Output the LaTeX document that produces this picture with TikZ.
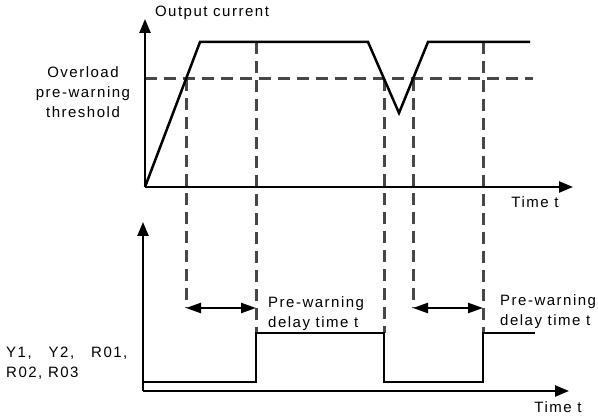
\documentclass[tikz,border=0pt]{standalone}
\usepackage{fontspec}
\setmainfont{Liberation Sans}[LetterSpace=10]
\usetikzlibrary{arrows.meta}
\begin{document}
\begin{tikzpicture}[x=1pt,y=-1pt,
  axis/.style={line width=2.5pt, -{Triangle[length=14pt,width=11pt]}},
  sig/.style={line width=2.5pt, line join=miter},
  guide/.style={line width=3pt, draw=black!72, dash pattern=on 12pt off 7pt},
  span/.style={line width=2.3pt, {Triangle[length=15pt,width=10pt]}-{Triangle[length=15pt,width=10pt]}},
  lbl/.style={font=\fontsize{15}{20}\selectfont, inner sep=0pt}]
\useasboundingbox[fill=white] (0,0) rectangle (598,419);
% coordinates
\coordinate (o1) at (145,187);
\coordinate (y1) at (145,19);
\coordinate (x1) at (573,187);
\coordinate (o2) at (143,391);
\coordinate (y2) at (143,222);
\coordinate (x2) at (569,391);
\coordinate (p1) at (200,42);
\coordinate (p2) at (368,42);
\coordinate (p3) at (399,113);
\coordinate (p4) at (428,42);
\coordinate (p5) at (530,42);
\coordinate (t0) at (145,79);
\coordinate (t1) at (533,79);
\coordinate (a1) at (186,79);
\coordinate (a2) at (186,308);
\coordinate (b1) at (256,42);
\coordinate (b2) at (256,333);
\coordinate (b3) at (256,308);
\coordinate (c1) at (384,79);
\coordinate (c2) at (384,333);
\coordinate (d1) at (413,79);
\coordinate (d2) at (413,308);
\coordinate (e1) at (483,42);
\coordinate (e2) at (483,333);
\coordinate (e3) at (483,308);
\coordinate (s0) at (143,382);
\coordinate (s1) at (256,382);
\coordinate (s2) at (384,382);
\coordinate (s3) at (483,382);
\coordinate (s4) at (535,333);
% dashed guides
\draw[guide] (t0) -- (t1);
\draw[guide] (a1) -- (a2);
\draw[guide] (b1) -- (b2);
\draw[guide] (c1) -- (c2);
\draw[guide] (d1) -- (d2);
\draw[guide] (e1) -- (e2);
% axes
\draw[axis] (o1) -- (y1);
\draw[axis] (o1) -- (x1);
\draw[axis] (o2) -- (y2);
\draw[axis] (o2) -- (x2);
% current curve
\draw[sig] (o1) -- (p1) -- (p2) -- (p3) -- (p4) -- (p5);
% output signal
\draw[sig] (s0) -- (s1) -- (b2) -- (c2) -- (s2) -- (s3) -- (e2) -- (s4);
% delay arrows
\draw[span] (a2) -- (b3);
\draw[span] (d2) -- (e3);
% labels
\node[lbl] (tOut) at (212,13) {Output current};
\node[lbl, align=center] (tThr) at (83,92) {Overload\\pre-warning\\threshold};
\node[lbl] (tT1) at (535,202) {Time t};
\node[lbl] (tT2) at (558,407) {Time t};
\node[lbl, align=left, anchor=west] (tD1) at (268,314) {Pre-warning\\delay time t};
\node[lbl, align=left, anchor=west] (tD2) at (500,312) {Pre-warning\\delay time t};
\node[lbl, anchor=west] (tY1) at (6,353) {Y1,\ \ \ Y2,\ \ \ R01,};
\node[lbl, anchor=west] (tY2) at (6,373) {R02, R03};
\end{tikzpicture}
\end{document}
